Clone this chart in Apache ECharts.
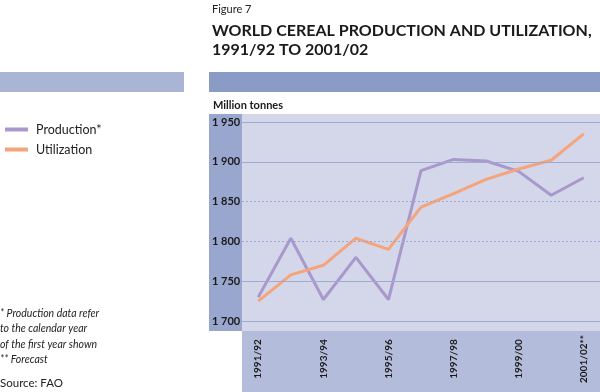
<!DOCTYPE html>
<html><head><meta charset="utf-8">
<script src="https://cdn.jsdelivr.net/npm/echarts@6/dist/echarts.min.js"></script>
<style>html,body{margin:0;padding:0;background:#fff}#c{width:600px;height:392px}</style>
</head><body><div id="c"></div>
<script>
const categories = ['1991/92','1992/93','1993/94','1994/95','1995/96','1996/97','1997/98','1998/99','1999/00','2000/01','2001/02**'];
const production = [1730, 1804, 1727, 1780, 1727, 1889, 1903, 1901, 1888, 1858, 1880];
const utilization = [1725, 1758, 1770, 1804, 1790, 1843, 1860, 1878, 1891, 1902, 1935];
const yTicks = [1700, 1750, 1800, 1850, 1900, 1950];
const dottedTicks = [1800, 1850];

const FONT = 'Lato, "DejaVu Sans", sans-serif';
const chart = echarts.init(document.getElementById('c'));
chart.setOption({
  animation: false,
  textStyle: { fontFamily: FONT },
  title: [
    { text: 'Figure 7', left: 207, top: -1, textStyle: { fontSize: 11, fontWeight: 'normal', color: '#222', fontFamily: FONT } },
    { text: 'WORLD CEREAL PRODUCTION AND UTILIZATION,\n1991/92 TO 2001/02', left: 207, top: 16,
      textStyle: { fontSize: 16, fontWeight: 'bold', color: '#1a1a1a', lineHeight: 19, fontFamily: FONT } },
    { text: 'Million tonnes', left: 208, top: 95, textStyle: { fontSize: 11, fontWeight: 'bold', color: '#1a1a1a', fontFamily: FONT } }
  ],
  graphic: [
    { type: 'rect', shape: { x: 0, y: 72, width: 184, height: 20 }, style: { fill: '#aab5d5' }, z: -10 },
    { type: 'rect', shape: { x: 209, y: 72, width: 391, height: 20 }, style: { fill: '#8a9cc6' }, z: -10 },
    { type: 'rect', shape: { x: 242, y: 114, width: 358, height: 217 }, style: { fill: '#d3d7e9' }, z: -10 },
    { type: 'rect', shape: { x: 209, y: 114, width: 33, height: 217 }, style: { fill: '#99a7cf' }, z: -10 },
    { type: 'rect', shape: { x: 242, y: 331, width: 358, height: 61 }, style: { fill: '#b3bcdb' }, z: -10 },
    { type: 'text', left: 0, top: 306, style: { text: '* Production data refer\nto the calendar year\nof the first year shown\n** Forecast',
      font: 'italic 10.5px ' + FONT, fill: '#222', lineHeight: 15.3 } },
    { type: 'text', left: 0, top: 377, style: { text: 'Source: FAO', font: '11.5px ' + FONT, fill: '#222' } }
  ],
  legend: {
    orient: 'vertical', left: 0, top: 118, itemWidth: 23, itemHeight: 4, itemGap: 7, icon: 'rect',
    textStyle: { fontSize: 12.5, color: '#222', padding: [0, 0, 0, 3], fontFamily: FONT },
    data: [
      { name: 'Production*', itemStyle: { color: '#a898cc' } },
      { name: 'Utilization', itemStyle: { color: '#f5a47c' } }
    ]
  },
  grid: { left: 242, right: 0, top: 122, bottom: 71 },
  xAxis: {
    type: 'category', data: categories, boundaryGap: true,
    axisLine: { show: false }, axisTick: { show: false },
    axisLabel: { interval: 1, rotate: 90, align: 'center', verticalAlign: 'middle', margin: 38,
      fontSize: 10, fontWeight: 'bold', color: '#1a1a1a', fontFamily: FONT }
  },
  yAxis: {
    type: 'value', min: 1700, max: 1950, interval: 50,
    axisLine: { show: false }, axisTick: { show: false },
    axisLabel: { align: 'left', margin: 30, fontSize: 11, fontWeight: 'bold', color: '#1a1a1a', fontFamily: FONT,
      formatter: v => { const s = String(v); return s.slice(0, 1) + ' ' + s.slice(1); } },
    splitLine: { show: false }
  },
  series: [
    { name: 'grid', type: 'line', data: [], z: 1, silent: true,
      markLine: { silent: true, symbol: 'none', label: { show: false },
        data: yTicks.map(t => ({ yAxis: t, lineStyle: { color: '#9eaad0', width: 1, type: dottedTicks.includes(t) ? [2, 2] : 'solid' } })) } },
    { name: 'Production*', type: 'line', z: 3, data: production, symbol: 'none', lineStyle: { color: '#a898cc', width: 3 }, itemStyle: { color: '#a898cc' } },
    { name: 'Utilization', type: 'line', z: 3, data: utilization, symbol: 'none', lineStyle: { color: '#f5a47c', width: 3 }, itemStyle: { color: '#f5a47c' } }
  ]
});
</script></body></html>
